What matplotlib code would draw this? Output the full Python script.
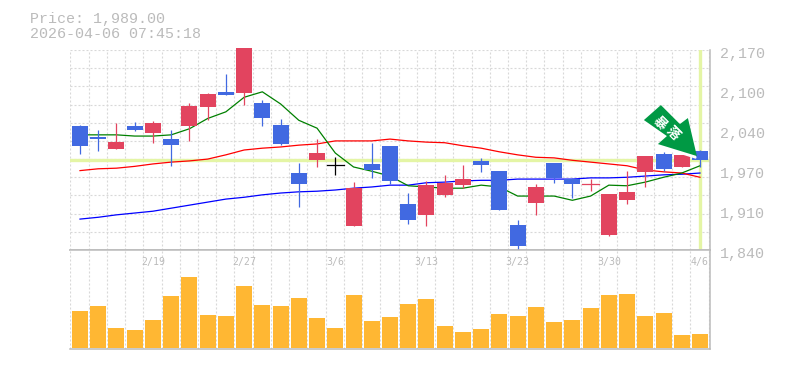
import matplotlib
matplotlib.use('Agg')
import matplotlib.pyplot as plt
from matplotlib.patches import Polygon
import numpy as np

plt.rcParams['font.family'] = ['Liberation Mono', 'Noto Sans CJK JP', 'DejaVu Sans']

opens = [2045, 2026, 2007, 2045, 2033, 2023, 2045, 2076, 2101, 2099, 2083, 2046, 1967, 1988, 1980, 1880, 1982, 2012,
         1916, 1898, 1931, 1947, 1987, 1970, 1881, 1918, 1984, 1957, 1949, 1865, 1922, 1969, 1998, 1977, 2003]
highs = [2046, 2038, 2050, 2051, 2053, 2038, 2083, 2099, 2130, 2173, 2088, 2056, 1984, 2023, 1993, 1952, 2017, 2012,
         1934, 1954, 1964, 1980, 1992, 1970, 1889, 1949, 1984, 1959, 1957, 1932, 1970, 1995, 2002, 1997, 2005]
lows = [1998, 2003, 2007, 2036, 2017, 1979, 2020, 2054, 2096, 2079, 2045, 2013, 1911, 1977, 1964, 1880, 1959, 1949,
        1883, 1880, 1927, 1942, 1969, 1906, 1838, 1898, 1951, 1926, 1937, 1863, 1916, 1944, 1970, 1977, 1977]
closes = [2012, 2023, 2018, 2038, 2050, 2013, 2078, 2097, 2096, 2173, 2058, 2015, 1949, 2000, 1980, 1942, 1972, 1954,
          1889, 1947, 1951, 1957, 1980, 1906, 1847, 1944, 1959, 1949, 1949, 1932, 1936, 1995, 1974, 1997, 1988]
volumes = [37, 42, 20, 18, 28, 52, 71, 33, 32, 62, 43, 42, 50, 30, 20, 53, 27, 31,
           44, 49, 22, 16, 19, 34, 32, 41, 26, 28, 40, 53, 54, 32, 35, 13, 14]

ma_short = [2030, 2030, 2030, 2028, 2028, 2030, 2040, 2057, 2068, 2092, 2101, 2081, 2054, 2041, 2000, 1977, 1970, 1962,
            1946, 1944, 1942, 1942, 1947, 1944, 1929, 1929, 1929, 1922, 1929, 1947, 1946, 1952, 1960, 1967, 1979]
ma_mid = [1971, 1974, 1975, 1978, 1982, 1985, 1987, 1990, 1997, 2005, 2008, 2010, 2013, 2015, 2020, 2020, 2020, 2023,
          2020, 2018, 2017, 2012, 2008, 2002, 1997, 1993, 1992, 1988, 1985, 1982, 1979, 1972, 1969, 1967, 1960]
ma_long = [1891, 1894, 1898, 1901, 1904, 1909, 1914, 1919, 1924, 1927, 1931, 1934, 1936, 1937, 1939, 1942, 1944, 1947,
           1947, 1951, 1952, 1954, 1955, 1955, 1957, 1957, 1957, 1957, 1959, 1959, 1960, 1962, 1964, 1965, 1967]

date_labels = {4: '2/19', 9: '2/27', 14: '3/6', 19: '3/13', 24: '3/23', 29: '3/30', 34: '4/6'}
price_labels = ['2,170', '2,100', '2,040', '1,970', '1,910', '1,840']
price_ticks = [2170, 2104, 2038, 1972, 1906, 1840]
last_price = 1989

UP = '#e2445f'
DOWN = '#4169e1'
GRID = '#d8d8d8'
FRAME = '#bbbbbb'
TEXT = '#bbbbbb'
NOW = '#e4f5a5'

W, H = 785, 370
x = np.arange(len(opens))
x0 = -10 / 18.235
x1 = x[-1] + 10 / 18.235

fig = plt.figure(figsize=(W / 100, H / 100), dpi=100)
ax = fig.add_axes([70 / W, 1 - 250 / H, 640 / W, 200 / H])
vol = fig.add_axes([70 / W, 1 - 349 / H, 640 / W, 99 / H])

for a in (ax, vol):
    a.set_xlim(x0, x1)
    a.set_xticks(np.r_[x0 + 0.02, x + 0.47])
    a.tick_params(length=0, labelbottom=False, labelleft=False)
    a.grid(axis='x', color=GRID, linestyle=(0, (1.8, 1.8)), linewidth=0.8)
    a.set_axisbelow(True)
    for s in ('left', 'top'):
        a.spines[s].set_visible(False)
    for s in ('right', 'bottom'):
        a.spines[s].set_color(FRAME)
        a.spines[s].set_linewidth(1.1)

ax.set_ylim(1840, 2170)
ax.set_yticks(np.linspace(1840, 2170, 12))
ax.grid(axis='y', color=GRID, linestyle=(0, (1.8, 1.8)), linewidth=0.8)

ax.axhline(last_price, color=NOW, linewidth=2.4, zorder=1)
ax.axvline(x[-1], ymin=0.01, color=NOW, linewidth=2.4, zorder=1)

# moving averages stay behind the candles
ax.plot(x, ma_long, color='#0000ff', linewidth=0.9, zorder=2)
ax.plot(x, ma_mid, color='#ff0000', linewidth=0.9, zorder=2)
ax.plot(x, ma_short, color='#008000', linewidth=0.9, zorder=2)

for i in x:
    o, h, l, c = opens[i], highs[i], lows[i], closes[i]
    if o == c:
        col = 'black' if i == 14 else UP
        ax.plot([i - 0.45, i + 0.45], [o, o], color=col, linewidth=0.9, zorder=3)
    else:
        col = UP if c > o else DOWN
        ax.bar(i, abs(c - o), bottom=min(o, c), width=0.88, color=col, zorder=3, clip_on=False)
    ax.plot([i, i], [l, h], color=col, linewidth=0.9, zorder=3, solid_capstyle='butt')

# arrow outline in pixels from its tip, anchored just under the last high
fig.canvas.draw()
arrow = np.array([(-36, 51), (-53, 36), (-30, 20), (-39, 12), (0, 0), (-9, 38), (-17, 32)], dtype=float)
tip = ax.transData.transform((x[-1] - 0.17, highs[-1] - 10))
halo = Polygon(arrow + tip + (-1, -2), closed=True, transform=None, facecolor='white', edgecolor='white', zorder=5)
head = Polygon(arrow + tip, closed=True, transform=None, facecolor='#009944', edgecolor='none', zorder=6)
fig.add_artist(halo)
fig.add_artist(head)
for (px, py), ch in zip([(-37, 33), (-24, 23)], '暴落'):
    fig.text((tip[0] + px) / W, (tip[1] + py) / H, ch, color='white', fontsize=9.5, rotation=-45,
             ha='center', va='center', family=['Noto Sans CJK JP'], weight='bold', zorder=7)

vol.set_ylim(-1, 98)
vol.set_yticks([])
vol.bar(x, volumes, width=0.88, color='#ffb733', zorder=3)
vol.spines['top'].set_visible(True)
vol.spines['top'].set_color(FRAME)
vol.spines['top'].set_linewidth(1.1)

for i, lab in date_labels.items():
    vol.annotate(lab, (i, 1), xycoords=('data', 'axes fraction'), xytext=(0, -12), textcoords='offset pixels',
                 ha='center', va='center', fontsize=7.1, family=['DejaVu Sans Mono'], color=TEXT, zorder=6)
for t, lab in zip(price_ticks, price_labels):
    ax.annotate(lab, (1, t), xycoords=('axes fraction', 'data'), xytext=(10, -4), textcoords='offset pixels',
                ha='left', va='center', fontsize=10.8, color=TEXT, annotation_clip=False)

fig.text(30 / W, 1 - 19 / H, f'Price: {last_price:,.2f}', fontsize=10.8, color=TEXT, va='center')
fig.text(30 / W, 1 - 34 / H, '2026-04-06 07:45:18', fontsize=10.8, color=TEXT, va='center')

fig.savefig('out.png', dpi=100)
